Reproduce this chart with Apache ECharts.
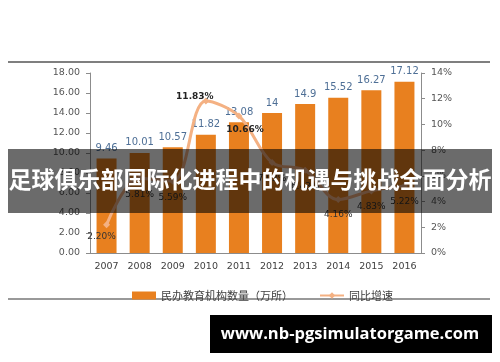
<!DOCTYPE html>
<html>
<head>
<meta charset="utf-8">
<script src="https://cdn.jsdelivr.net/npm/echarts@6/dist/echarts.min.js"></script>
<style>
html,body{margin:0;padding:0;background:#fff;}
#chart{width:500px;height:362px;}
</style>
</head>
<body>
<div id="chart"></div>
<script>
var categories = ['2007','2008','2009','2010','2011','2012','2013','2014','2015','2016'];
var institutions = [9.46, 10.01, 10.57, 11.82, 13.08, 14, 14.9, 15.52, 16.27, 17.12];
var growth = [2.20, 5.81, 5.59, 11.83, 10.66, 7.03, 6.43, 4.16, 4.83, 5.22];
var leftTicks = {min: 0, max: 18, interval: 2};
var rightTicks = {min: 0, max: 14, interval: 2};
var seriesNames = ['民办教育机构数量（万所）', '同比增速'];
var bannerText = '足球俱乐部国际化进程中的机遇与挑战全面分析';
var siteText = 'www.nb-pgsimulatorgame.com';

var labelOffsets = [[-5,12],[0,16],[0,17],[-11,-4],[6,14],[0,16],[0,16],[0,15],[0,16],[0,16]];
var boldIdx = [3,4];

var lineData = growth.map(function(v, i){
  return {
    value: v,
    label: {
      show: true,
      position: 'inside',
      offset: labelOffsets[i],
      fontWeight: boldIdx.indexOf(i) >= 0 ? 'bold' : 'normal',
      color: boldIdx.indexOf(i) >= 0 ? '#222' : '#333'
    }
  };
});

var chart = echarts.init(document.getElementById('chart'), null, {renderer: 'canvas'});
chart.setOption({
  backgroundColor: '#fff',
  animation: false,
  grid: {left: 90, right: 79, top: 73, bottom: 109},
  legend: {
    left: 127, top: 285,
    itemGap: 26,
    itemWidth: 24, itemHeight: 8,
    textStyle: {fontFamily: 'Noto Sans CJK SC', fontSize: 11, color: '#404040'},
    data: [
      {name: seriesNames[0], icon: 'rect'},
      {name: seriesNames[1]}
    ]
  },
  xAxis: {
    type: 'category',
    data: categories,
    axisLine: {lineStyle: {color: '#8c8c8c'}},
    axisTick: {show: false},
    axisLabel: {fontFamily: 'DejaVu Sans', fontSize: 9.5, color: '#404040', margin: 9}
  },
  yAxis: [
    {
      type: 'value', min: leftTicks.min, max: leftTicks.max, interval: leftTicks.interval,
      splitLine: {show: false},
      axisLine: {show: true, lineStyle: {color: '#8c8c8c'}},
      axisTick: {show: true, length: 4, lineStyle: {color: '#8c8c8c'}},
      axisLabel: {fontFamily: 'DejaVu Sans', fontSize: 9.5, color: '#555', margin: 10,
        formatter: function(v){ return v.toFixed(2); }}
    },
    {
      type: 'value', min: rightTicks.min, max: rightTicks.max, interval: rightTicks.interval,
      position: 'right',
      splitLine: {show: false},
      axisLine: {show: true, lineStyle: {color: '#8c8c8c'}},
      axisTick: {show: true, length: 4, lineStyle: {color: '#8c8c8c'}},
      axisLabel: {fontFamily: 'DejaVu Sans', fontSize: 9.5, color: '#555', margin: 10,
        formatter: function(v){ return v + '%'; }}
    }
  ],
  series: [
    {
      name: seriesNames[0],
      type: 'bar',
      data: institutions,
      barWidth: 20,
      itemStyle: {color: '#E8801F'},
      label: {show: true, position: 'top', distance: 5, fontFamily: 'DejaVu Sans', fontSize: 10, color: '#4E6F96'}
    },
    {
      name: seriesNames[1],
      type: 'line',
      yAxisIndex: 1,
      smooth: 0.35,
      data: lineData,
      symbol: 'diamond',
      symbolSize: 7,
      lineStyle: {color: '#F4B183', width: 3},
      itemStyle: {color: '#F4B183'},
      label: {fontFamily: 'DejaVu Sans', fontSize: 9, formatter: function(p){ return p.value.toFixed(2) + '%'; }}
    }
  ],
  graphic: [
    {type: 'line', shape: {x1: 8, y1: 62, x2: 490, y2: 62}, style: {stroke: '#555', lineWidth: 1.5}},
    {type: 'line', shape: {x1: 8, y1: 299, x2: 490, y2: 299}, style: {stroke: '#777', lineWidth: 1.5}},
    {type: 'rect', shape: {x: 8, y: 149, width: 484, height: 64}, style: {fill: 'rgba(0,0,0,0.58)'}, z: 100},
    {type: 'text', left: 'center', top: 168, z: 101,
      style: {text: bannerText, fill: '#fff', font: 'bold 23px "Noto Sans CJK SC"'}},
    {type: 'rect', shape: {x: 210, y: 315, width: 282, height: 38}, style: {fill: '#000'}, z: 100},
    {type: 'text', z: 101, x: 350, y: 334,
      style: {text: siteText, fill: '#fff', font: 'bold 16.5px "Open Sans"', textAlign: 'center', textVerticalAlign: 'middle'}}
  ]
});
</script>
</body>
</html>
